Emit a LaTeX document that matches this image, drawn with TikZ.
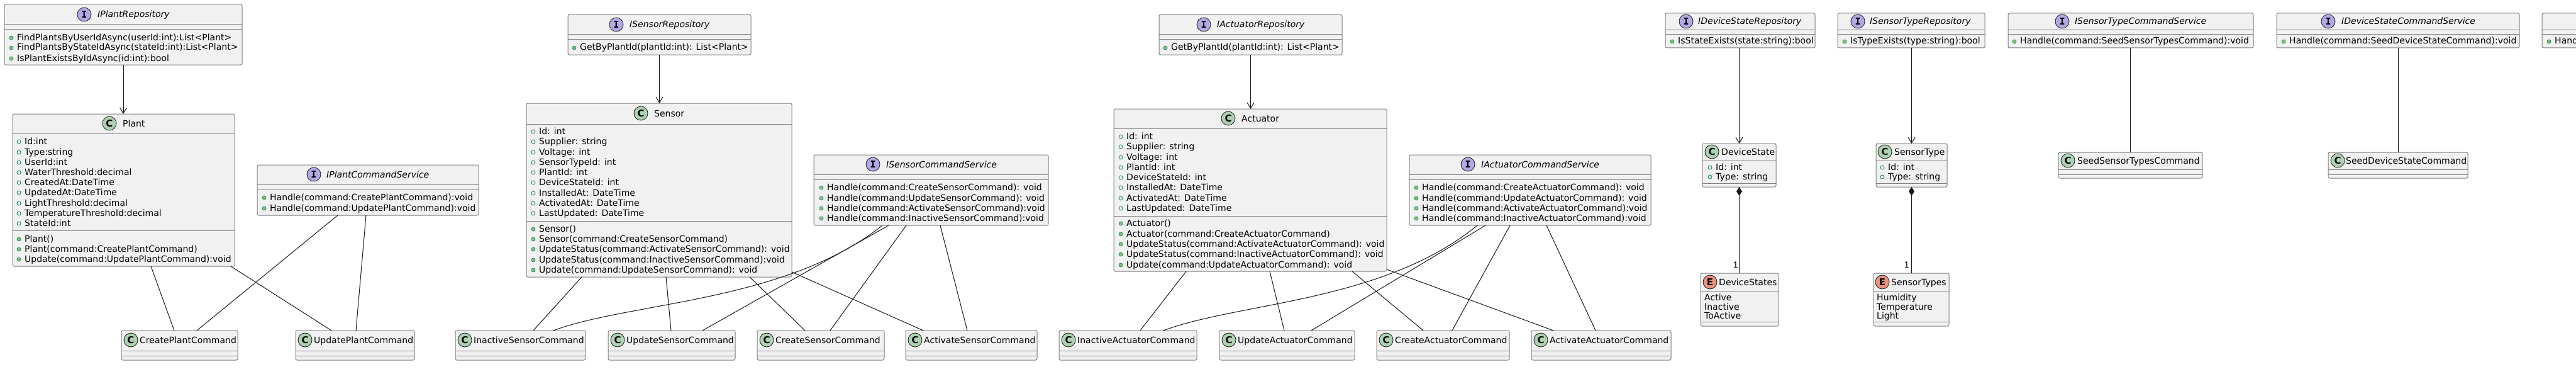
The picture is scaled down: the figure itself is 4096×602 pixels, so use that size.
\documentclass[tikz,border=0pt]{standalone}
\usepackage{fontspec}
\setmainfont{DejaVu Sans}[ItalicFont={DejaVu Sans Oblique},BoldFont={DejaVu Sans Bold}]
\newfontfamily\monofnt{DejaVu Sans Mono}[BoldFont={DejaVu Sans Mono Bold}]
\usetikzlibrary{fit,arrows.meta}
\definecolor{boxfill}{HTML}{F1F1F1}
\definecolor{boxline}{HTML}{808080}
\definecolor{lnk}{HTML}{181818}
\definecolor{ifill}{HTML}{B4A7E5}
\definecolor{cfill}{HTML}{ADD1B2}
\definecolor{efill}{HTML}{EB937F}
\definecolor{dotline}{HTML}{038048}
\definecolor{dotfill}{HTML}{84BE84}
\tikzset{
 ubox/.style={draw=boxline, fill=boxfill, line width=1pt, rounded corners=2.5pt, inner sep=0pt, outer sep=0pt},
 usep/.style={draw=boxline, line width=1pt},
 utxt/.style={inner sep=0pt, text height=10pt, text depth=0pt, anchor=west, font=\fontsize{14pt}{16pt}\selectfont, text=black},
 icn/.style={circle, draw=lnk, line width=0.8pt, minimum size=22pt, inner sep=0pt, font=\fontsize{15pt}{15pt}\selectfont\bfseries},
 conn/.style={draw=lnk, line width=1pt},
 arr/.style={conn, -{Straight Barb[length=9pt,width=11pt]}},
 comp/.style={conn, {Diamond[length=14pt,width=9pt]}-},
 mult/.style={inner sep=0pt, anchor=east, font=\fontsize{13pt}{13pt}\selectfont},
}
\newcommand\ubx[5]{\node[ubox, fit={(#2,#3)(#4,#5)}] (#1) {};}
\newcommand\usp[2]{\draw[usep] (#1.west |- 0,#2) -- (#1.east |- 0,#2);}
\newcommand\icon[4]{\node[icn, fill=#3] at (#1,#2) {#4};}
\newcommand\iicon[2]{\icon{#1}{#2}{ifill}{\monofnt\bfseries I}}
\newcommand\cicon[2]{\icon{#1}{#2}{cfill}{C}}
\newcommand\eicon[2]{\icon{#1}{#2}{efill}{E}}
\newcommand\ttl[3]{\node[utxt] at (#1,#2) {#3};}
\newcommand\ittl[3]{\node[utxt] at (#1,#2) {\itshape #3};}
\newcommand\mth[3]{\filldraw[draw=dotline, fill=dotfill, line width=0.6pt] (#1-9,#2+1) circle[radius=3pt]; \node[utxt] at (#1,#2) {#3};}
\newcommand\fld[3]{\draw[draw=dotline, line width=0.8pt] (#1-9,#2+1) circle[radius=3pt]; \node[utxt] at (#1,#2) {#3};}
\newcommand\cmdbox[6]{% name, x1, y1, x2, y2, title
  \ubx{#1}{#2}{#3}{#4}{#5}\cicon{#2+15}{#3+15}\ttl{#2+29}{#3+15}{#6}\usp{#1}{#3+32}\usp{#1}{#3+40}}
\begin{document}
\begin{tikzpicture}[x=1pt,y=-1pt]
\useasboundingbox (0,0) rectangle (4096,602);
\fill[white] (0,0) rectangle (4096,602);
\clip (0,0) rectangle (4096,602);

% ---------- Plant ----------
\ubx{ipr}{7}{7}{385}{103}
\iicon{134}{23}\ittl{155}{23}{IPlantRepository}
\usp{ipr}{39}\usp{ipr}{47}
\mth{27}{59}{FindPlantsByUserIdAsync(userId:int):List<Plant>}
\mth{27}{75}{FindPlantsByStateIdAsync(stateId:int):List<Plant>}
\mth{27}{92}{IsPlantExistsByIdAsync(id:int):bool}

\ubx{plant}{20}{181}{373}{423}
\cicon{174}{196}\ttl{195}{196}{Plant}
\usp{plant}{212}
\fld{39}{224}{Id:int}
\fld{39}{241}{Type:string}
\fld{39}{257}{UserId:int}
\fld{39}{273}{WaterThreshold:decimal}
\fld{39}{289}{CreatedAt:DateTime}
\fld{39}{305}{UpdatedAt:DateTime}
\fld{39}{322}{LightThreshold:decimal}
\fld{39}{338}{TemperatureThreshold:decimal}
\fld{39}{354}{StateId:int}
\usp{plant}{366}
\mth{39}{379}{Plant()}
\mth{39}{395}{Plant(command:CreatePlantCommand)}
\mth{39}{411}{Update(command:UpdatePlantCommand):void}

\ubx{ipcs}{409}{262}{761}{342}
\iicon{499}{277}\ittl{519}{277}{IPlantCommandService}
\usp{ipcs}{293}\usp{ipcs}{301}
\mth{429}{313}{Handle(command:CreatePlantCommand):void}
\mth{429}{330}{Handle(command:UpdatePlantCommand):void}

\cmdbox{cpc}{193}{525}{378}{572}{CreatePlantCommand}
\cmdbox{upc}{470}{525}{659}{572}{UpdatePlantCommand}

% ---------- Sensor ----------
\ubx{isr}{903}{23}{1194}{87}
\iicon{980}{39}\ittl{1001}{39}{ISensorRepository}
\usp{isr}{55}\usp{isr}{63}
\mth{922}{75}{GetByPlantId(plantId:int): List<Plant>}

\ubx{sensor}{837}{164}{1259}{440}
\cicon{1019}{180}\ttl{1040}{180}{Sensor}
\usp{sensor}{197}
\fld{857}{208}{Id: int}
\fld{857}{224}{Supplier: string}
\fld{857}{241}{Voltage: int}
\fld{857}{257}{SensorTypeId: int}
\fld{857}{273}{PlantId: int}
\fld{857}{289}{DeviceStateId: int}
\fld{857}{306}{InstalledAt: DateTime}
\fld{857}{322}{ActivatedAt: DateTime}
\fld{857}{338}{LastUpdated: DateTime}
\usp{sensor}{351}
\mth{857}{363}{Sensor()}
\mth{857}{379}{Sensor(command:CreateSensorCommand)}
\mth{857}{395}{UpdateStatus(command:ActivateSensorCommand): void}
\mth{857}{412}{UpdateStatus(command:InactiveSensorCommand):void}
\mth{857}{428}{Update(command:UpdateSensorCommand): void}

\ubx{iscs}{1294}{246}{1667}{358}
\iicon{1388}{261}\ittl{1409}{261}{ISensorCommandService}
\usp{iscs}{277}\usp{iscs}{285}
\mth{1315}{297}{Handle(command:CreateSensorCommand): void}
\mth{1315}{314}{Handle(command:UpdateSensorCommand): void}
\mth{1315}{330}{Handle(command:ActivateSensorCommand):void}
\mth{1315}{346}{Handle(command:InactiveSensorCommand):void}

\cmdbox{isc}{724}{525}{931}{572}{InactiveSensorCommand}
\cmdbox{usc}{967}{525}{1169}{572}{UpdateSensorCommand}
\cmdbox{csc}{1204}{525}{1406}{572}{CreateSensorCommand}
\cmdbox{asc}{1440}{525}{1649}{572}{ActivateSensorCommand}

% ---------- Actuator ----------
\ubx{iar}{1843}{23}{2134}{87}
\iicon{1914}{39}\ittl{1935}{39}{IActuatorRepository}
\usp{iar}{55}\usp{iar}{63}
\mth{1862}{75}{GetByPlantId(plantId:int): List<Plant>}

\ubx{act}{1771}{173}{2205}{431}
\cicon{1953}{188}\ttl{1974}{188}{Actuator}
\usp{act}{204}
\fld{1791}{216}{Id: int}
\fld{1791}{232}{Supplier: string}
\fld{1791}{249}{Voltage: int}
\fld{1791}{265}{PlantId: int}
\fld{1791}{281}{DeviceStateId: int}
\fld{1791}{297}{InstalledAt: DateTime}
\fld{1791}{314}{ActivatedAt: DateTime}
\fld{1791}{330}{LastUpdated: DateTime}
\usp{act}{343}
\mth{1791}{354}{Actuator()}
\mth{1791}{371}{Actuator(command:CreateActuatorCommand)}
\mth{1791}{387}{UpdateStatus(command:ActivateActuatorCommand): void}
\mth{1791}{403}{UpdateStatus(command:InactiveActuatorCommand): void}
\mth{1791}{420}{Update(command:UpdateActuatorCommand): void}

\ubx{iacs}{2241}{246}{2625}{358}
\iicon{2334}{261}\ittl{2355}{261}{IActuatorCommandService}
\usp{iacs}{277}\usp{iacs}{285}
\mth{2261}{297}{Handle(command:CreateActuatorCommand): void}
\mth{2261}{314}{Handle(command:UpdateActuatorCommand): void}
\mth{2261}{330}{Handle(command:ActivateActuatorCommand):void}
\mth{2261}{346}{Handle(command:InactiveActuatorCommand):void}

\cmdbox{iac}{1684}{525}{1903}{572}{InactiveActuatorCommand}
\cmdbox{uac}{1939}{525}{2154}{572}{UpdateActuatorCommand}
\cmdbox{cac}{2189}{525}{2400}{572}{CreateActuatorCommand}
\cmdbox{aac}{2435}{525}{2657}{572}{ActivateActuatorCommand}

% ---------- Device state / sensor type ----------
\ubx{idsr}{2648}{21}{2886}{76}
\iicon{2681}{34}\ittl{2700}{34}{IDeviceStateRepository}
\usp{idsr}{48}\usp{idsr}{55}
\mth{2668}{65}{IsStateExists(state:string):bool}

\ubx{ds}{2707}{228}{2824}{297}
\cicon{2722}{241}\ttl{2737}{241}{DeviceState}
\usp{ds}{255}
\fld{2728}{265}{Id: int}
\fld{2728}{280}{Type: string}
\usp{ds}{291}

\ubx{dss}{2704}{434}{2828}{518}
\eicon{2719}{448}\ttl{2733}{448}{DeviceStates}
\usp{dss}{462}
\ttl{2710}{472}{Active}
\ttl{2710}{487}{Inactive}
\ttl{2710}{501}{ToActive}
\usp{dss}{511}

\ubx{istr}{2922}{21}{3156}{76}
\iicon{2954}{34}\ittl{2973}{34}{ISensorTypeRepository}
\usp{istr}{48}\usp{istr}{55}
\mth{2942}{65}{IsTypeExists(type:string):bool}

\ubx{st}{2983}{228}{3096}{297}
\cicon{2997}{241}\ttl{3012}{241}{SensorType}
\usp{st}{255}
\fld{3002}{265}{Id: int}
\fld{3002}{280}{Type: string}
\usp{st}{291}

\ubx{sts}{2979}{434}{3099}{518}
\eicon{2993}{448}\ttl{3007}{448}{SensorTypes}
\usp{sts}{462}
\ttl{2984}{472}{Humidity}
\ttl{2984}{487}{Temperature}
\ttl{2984}{501}{Light}
\usp{sts}{511}

\ubx{istcs}{3193}{21}{3583}{76}
\iicon{3279}{34}\ittl{3299}{34}{ISensorTypeCommandService}
\usp{istcs}{48}\usp{istcs}{55}
\mth{3212}{65}{Handle(command:SeedSensorTypesCommand):void}

\ubx{sstc}{3273}{242}{3502}{283}
\cicon{3288}{255}\ttl{3303}{255}{SeedSensorTypesCommand}
\usp{sstc}{269}\usp{sstc}{277}

\ubx{idscs}{3620}{21}{4006}{76}
\iicon{3702}{34}\ittl{3723}{34}{IDeviceStateCommandService}
\usp{idscs}{48}\usp{idscs}{55}
\mth{3640}{65}{Handle(command:SeedDeviceStateCommand):void}

\ubx{sdsc}{3702}{242}{3924}{283}
\cicon{3717}{255}\ttl{3730}{255}{SeedDeviceStateCommand}
\usp{sdsc}{269}\usp{sdsc}{277}

\ubx{cut}{4042}{21}{4400}{76}
\usp{cut}{48}\usp{cut}{55}
\mth{4062}{65}{Handle}

% ---------- connectors ----------
\draw[arr] (ipr.south -| 196,0) -- (plant.north -| 196,0);
\draw[conn] (plant.south -| 240,0) -- (cpc.north -| 277,0);
\draw[conn] (plant.south -| 367,0) -- (upc.north -| 527,0);
\draw[conn] (ipcs.south -| 537,0) -- (cpc.north -| 313,0);
\draw[conn] (ipcs.south -| 582,0) -- (upc.north -| 566,0);

\draw[arr] (isr.south) -- (sensor.north -| isr.south);
\draw[conn] (sensor.south -| 925,0) -- (isc.north -| 848,0);
\draw[conn] (sensor.south -| 1059,0) -- (usc.north -| 1067,0);
\draw[conn] (sensor.south -| 1192,0) -- (csc.north -| 1280,0);
\draw[conn] (sensor.east |- 0,432) -- (asc.north -| 1468,0);
\draw[conn] (iscs.south -| 1403,0) .. controls (1250,480) and (1000,480) .. (isc.north -| 880,0);
\draw[conn] (iscs.south -| 1413,0) -- (usc.north -| 1117,0);
\draw[conn] (iscs.south -| 1441,0) -- (csc.north -| 1320,0);
\draw[conn] (iscs.south -| 1495,0) -- (asc.north -| 1538,0);

\draw[arr] (iar.south) -- (act.north -| iar.south);
\draw[conn] (act.south -| 1886,0) -- (iac.north -| 1813,0);
\draw[conn] (act.south -| 2019,0) -- (uac.north -| 2042,0);
\draw[conn] (act.south -| 2150,0) -- (cac.north -| 2263,0);
\draw[conn] (act.east |- 0,428) -- (aac.north -| 2470,0);
\draw[conn] (iacs.south -| 2349,0) .. controls (2200,480) and (1970,480) .. (iac.north -| 1850,0);
\draw[conn] (iacs.south -| 2362,0) -- (uac.north -| 2085,0);
\draw[conn] (iacs.south -| 2401,0) -- (cac.north -| 2309,0);
\draw[conn] (iacs.south -| 2459,0) -- (aac.north -| 2537,0);

\draw[arr] (idsr.south -| ds.north) -- (ds.north);
\draw[comp] (ds.south) -- (dss.north -| ds.south);
\node[mult] at (2764,421) {1};
\draw[arr] (istr.south -| st.north) -- (st.north);
\draw[comp] (st.south) -- (sts.north -| st.south);
\node[mult] at (3036,421) {1};
\draw[conn] (istcs.south -| sstc.north) -- (sstc.north);
\draw[conn] (idscs.south -| sdsc.north) -- (sdsc.north);
\end{tikzpicture}
\end{document}
